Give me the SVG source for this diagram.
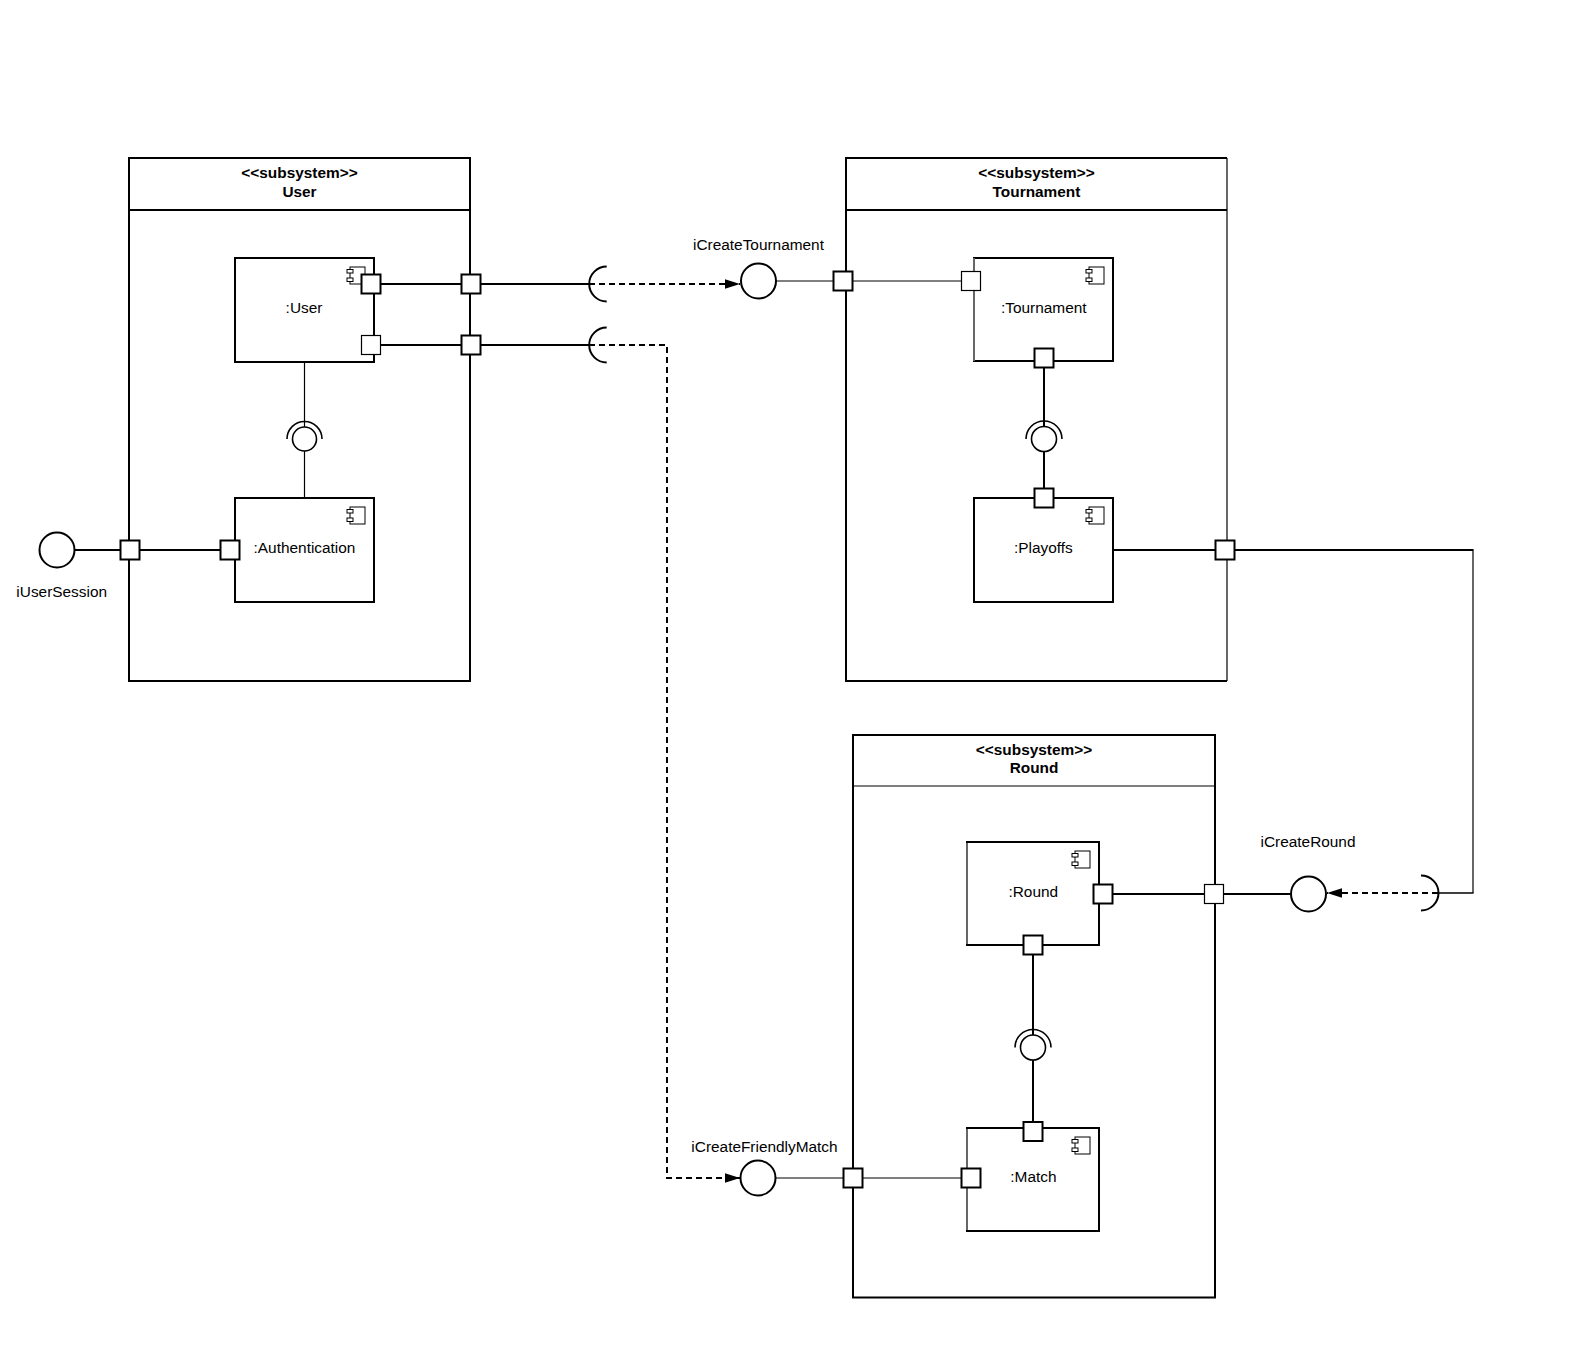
<svg xmlns="http://www.w3.org/2000/svg" xmlns:xlink="http://www.w3.org/1999/xlink" width="1587" height="1360" viewBox="0 0 1587 1360">
<style>
.box{fill:none;stroke:#000;stroke-width:2}
.comp{fill:#fff;stroke:#000;stroke-width:2}
.port{fill:#fff;stroke:#000;stroke-width:2}
.portt{fill:#fff;stroke:#000;stroke-width:1.2}
.ln{fill:none;stroke:#000;stroke-width:2}
.lt{fill:none;stroke:#000;stroke-width:1.2}
.dash{fill:none;stroke:#000;stroke-width:2;stroke-dasharray:6 4}
.ifc{fill:#fff;stroke:#000;stroke-width:2}
.lol{fill:#fff;stroke:#000;stroke-width:2}
.t{font-family:"Liberation Sans",Arial,sans-serif;font-size:15.4px;fill:#000;text-anchor:middle}
.tb{font-family:"Liberation Sans",Arial,sans-serif;font-size:15.4px;font-weight:bold;fill:#000;text-anchor:middle}
.ic{fill:#fff;stroke:#000;stroke-width:1}
</style>
<defs>
<marker id="arr" viewBox="0 0 15 10" refX="15" refY="5" markerWidth="15" markerHeight="10" markerUnits="userSpaceOnUse" orient="auto">
<path d="M0,0.3 L15,5 L0,9.7 Z" fill="#000"/>
</marker>
<g id="cicon">
<rect class="ic" x="0" y="0" width="15" height="17"/>
<rect class="ic" x="-3" y="2.5" width="6" height="3.5"/>
<rect class="ic" x="-3" y="11" width="6" height="3.5"/>
</g>
</defs>
<rect width="1587" height="1360" fill="#fff"/>

<g id="connectors">
<!-- User internal -->
<line class="ln" x1="371" y1="284" x2="589" y2="284"/>
<line class="ln" x1="371" y1="345" x2="589" y2="345"/>
<path class="ln" d="M606.7,266.5 A17.5,17.5 0 0 0 606.7,301.5"/>
<path class="ln" d="M606.7,327.5 A17.5,17.5 0 0 0 606.7,362.5"/>
<line class="dash" x1="589" y1="284" x2="740" y2="284" marker-end="url(#arr)"/>
<path class="dash" d="M589,345 H667 V1178 H740" marker-end="url(#arr)"/>
<line class="ln" x1="74.5" y1="550" x2="230" y2="550"/>
<line class="lt" x1="304.5" y1="362" x2="304.5" y2="427"/>
<line class="lt" x1="304.5" y1="451" x2="304.5" y2="498"/>
<path class="ln" d="M287,439 A17.5,17.5 0 0 1 322,439" style="stroke-width:1.6"/>
<!-- Tournament -->
<line class="lt" x1="776" y1="281" x2="971" y2="281"/>
<line class="ln" x1="1044" y1="358" x2="1044" y2="426.5"/>
<line class="ln" x1="1044" y1="451.5" x2="1044" y2="498"/>
<path class="ln" d="M1026,439 A18,18 0 0 1 1062,439" style="stroke-width:1.6"/>
<line class="ln" x1="1113" y1="550" x2="1473" y2="550"/>
<line class="lt" x1="1473" y1="549" x2="1473" y2="893"/>
<line class="ln" x1="1473.5" y1="893" x2="1439" y2="893" style="stroke-width:1.6"/>
<path class="ln" d="M1421,875.5 A17.5,17.5 0 0 1 1421,910.5"/>
<line class="dash" x1="1438" y1="893" x2="1327" y2="893" marker-end="url(#arr)"/>
<!-- Round -->
<line class="ln" x1="1103" y1="894" x2="1291" y2="894"/>
<line class="ln" x1="1033" y1="945" x2="1033" y2="1035"/>
<line class="ln" x1="1033" y1="1060" x2="1033" y2="1131.5"/>
<path class="ln" d="M1015,1047.5 A18,18 0 0 1 1051,1047.5" style="stroke-width:1.6"/>
<line class="lt" x1="775.5" y1="1178" x2="971" y2="1178"/>
</g>

<g id="subsystem-user">
<rect class="box" x="129" y="158" width="341" height="523"/>
<line class="ln" x1="129" y1="210" x2="470" y2="210"/>
<text class="tb" x="299.5" y="178">&lt;&lt;subsystem&gt;&gt;</text>
<text class="tb" x="299.5" y="196.7">User</text>
<rect class="port" x="461.5" y="274.5" width="19" height="19"/>
<rect class="port" x="461.5" y="335.5" width="19" height="19"/>
<rect class="port" x="120.5" y="540.5" width="19" height="19"/>
</g>

<g id="comp-user">
<rect class="comp" x="235" y="258" width="139" height="104"/>
<use xlink:href="#cicon" x="350" y="267"/>
<text class="t" x="304" y="313">:User</text>
<rect class="port" x="361.5" y="274.5" width="19" height="19"/>
<rect class="portt" x="361.5" y="335.5" width="19" height="19"/>
</g>

<g id="lollipop-user">
<circle class="lol" cx="304.5" cy="439" r="12" style="stroke-width:1.6"/>
</g>

<g id="comp-authentication">
<rect class="comp" x="235" y="498" width="139" height="104"/>
<use xlink:href="#cicon" x="350" y="507"/>
<text class="t" x="304.5" y="553">:Authentication</text>
<rect class="port" x="220.5" y="540.5" width="19" height="19"/>
</g>

<g id="iface-iUserSession">
<circle class="ifc" cx="57" cy="550" r="17.5"/>
<text class="t" x="61.7" y="596.5">iUserSession</text>
</g>

<g id="iface-iCreateTournament">
<circle class="ifc" cx="758.5" cy="281" r="17.5"/>
<text class="t" x="758.5" y="249.5">iCreateTournament</text>
</g>

<g id="subsystem-tournament">
<path class="box" d="M1227,158 H846 V681 H1227"/>
<line class="lt" x1="1227" y1="158" x2="1227" y2="681"/>
<line class="ln" x1="846" y1="210" x2="1227" y2="210"/>
<text class="tb" x="1036.5" y="178">&lt;&lt;subsystem&gt;&gt;</text>
<text class="tb" x="1036.5" y="196.7">Tournament</text>
<rect class="port" x="833.5" y="271.5" width="19" height="19"/>
<rect class="port" x="1215.5" y="540.5" width="19" height="19"/>
</g>

<g id="comp-tournament">
<rect class="comp" x="974" y="258" width="139" height="103"/>
<line class="lt" x1="974" y1="258" x2="974" y2="361" style="stroke:#fff;stroke-width:2"/>
<line class="lt" x1="974" y1="257" x2="974" y2="362"/>
<use xlink:href="#cicon" x="1089" y="267"/>
<text class="t" x="1043.8" y="313">:Tournament</text>
<rect class="portt" x="961.5" y="271.5" width="19" height="19"/>
<rect class="port" x="1034.5" y="348.5" width="19" height="19"/>
</g>

<g id="lollipop-tournament">
<circle class="lol" cx="1044" cy="439" r="12.5" style="stroke-width:1.6"/>
</g>

<g id="comp-playoffs">
<rect class="comp" x="974" y="498" width="139" height="104"/>
<use xlink:href="#cicon" x="1089" y="507"/>
<text class="t" x="1043.3" y="553">:Playoffs</text>
<rect class="port" x="1034.5" y="488.5" width="19" height="19"/>
</g>

<g id="iface-iCreateRound">
<circle class="ifc" cx="1308.5" cy="894" r="17.5"/>
<text class="t" x="1308" y="846.5">iCreateRound</text>
</g>

<g id="subsystem-round">
<rect class="box" x="853" y="735" width="362" height="562.5"/>
<line class="lt" x1="853" y1="786" x2="1215" y2="786"/>
<text class="tb" x="1034" y="754.5">&lt;&lt;subsystem&gt;&gt;</text>
<text class="tb" x="1034" y="773.3">Round</text>
<rect class="portt" x="1204.5" y="884.5" width="19" height="19"/>
<rect class="port" x="843.5" y="1168.5" width="19" height="19"/>
</g>

<g id="comp-round">
<rect class="comp" x="967" y="842" width="132" height="103"/>
<line x1="967" y1="843" x2="967" y2="944" style="stroke:#fff;stroke-width:2"/>
<line class="lt" x1="967" y1="842" x2="967" y2="945"/>
<use xlink:href="#cicon" x="1075" y="851"/>
<text class="t" x="1033.3" y="896.7">:Round</text>
<rect class="port" x="1093.5" y="884.5" width="19" height="19"/>
<rect class="port" x="1023.5" y="935.5" width="19" height="19"/>
</g>

<g id="lollipop-round">
<circle class="lol" cx="1033" cy="1047.5" r="12.5" style="stroke-width:1.6"/>
</g>

<g id="comp-match">
<rect class="comp" x="967" y="1128" width="132" height="103"/>
<line x1="967" y1="1129" x2="967" y2="1230" style="stroke:#fff;stroke-width:2"/>
<line class="lt" x1="967" y1="1128" x2="967" y2="1231"/>
<use xlink:href="#cicon" x="1075" y="1137"/>
<text class="t" x="1033.4" y="1181.5">:Match</text>
<rect class="port" x="1023.5" y="1122" width="19" height="19"/>
<rect class="port" x="961.5" y="1168.5" width="19" height="19"/>
</g>

<g id="iface-iCreateFriendlyMatch">
<circle class="ifc" cx="758" cy="1178" r="17.5"/>
<text class="t" x="764.5" y="1151.5">iCreateFriendlyMatch</text>
</g>
</svg>
